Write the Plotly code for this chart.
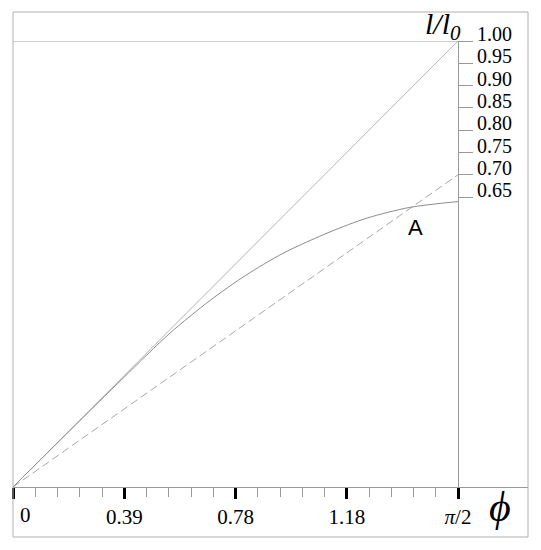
import math
import plotly.graph_objects as go

# ---- data ----
phi_max = math.pi / 2
x_tick_vals = [0, math.pi / 8, math.pi / 4, 3 * math.pi / 8, math.pi / 2]
x_tick_text = ["", "0.39", "0.78", "1.18", "<i>π</i>/2"]
x_zero_label = "0"
x_minor_vals = [k * math.pi / 40 for k in range(21) if k % 5 != 0]
y_tick_vals = [0.65, 0.70, 0.75, 0.80, 0.85, 0.90, 0.95, 1.00]
y_tick_text = ["0.65", "0.70", "0.75", "0.80", "0.85", "0.90", "0.95", "1.00"]

diag_phi = [0, phi_max]
diag_l = [0, 1.0]
dash_phi = [0, phi_max]
dash_l = [0, 0.70]
curve_phi = [0, 0.20, 0.39, 0.554, 0.695, 0.82, 0.953, 1.119, 1.25, 1.401, phi_max]
curve_l = [0, 0.126, 0.245, 0.345, 0.418, 0.474, 0.524, 0.572, 0.603, 0.627, 0.640]

# ---- geometry (page has an 8px body margin) ----
W, H = 525, 534
L, R, T, B = 5, 5, 4, 55
PW = W - L - R          # 515
PH = H - T - B          # 475
AX_W = 445              # px from phi=0 to phi=pi/2
AX_H = 446              # px from 0 to 1
x_range_max = phi_max * PW / AX_W

fig = go.Figure()
fig.add_trace(go.Scatter(x=diag_phi, y=diag_l, mode="lines",
                         line=dict(color="#b4b4b4", width=1), hoverinfo="skip"))
fig.add_trace(go.Scatter(x=dash_phi, y=dash_l, mode="lines",
                         line=dict(color="#a8a8a8", width=1, dash="8px,4px"), hoverinfo="skip"))
fig.add_trace(go.Scatter(x=curve_phi, y=curve_l, mode="lines",
                         line=dict(color="#8c8c8c", width=1, shape="spline", smoothing=0.8),
                         hoverinfo="skip"))

fig.update_layout(
    width=W, height=H,
    margin=dict(l=L, r=R, t=T, b=B, pad=0, autoexpand=False),
    paper_bgcolor="white", plot_bgcolor="white",
    showlegend=False,
    font=dict(family="Liberation Serif", size=20, color="black"),
    xaxis=dict(
        range=[0, x_range_max], domain=[0, 1], automargin=False,
        showgrid=False, zeroline=False,
        showline=True, linecolor="#999999", linewidth=1,
        tickmode="array", tickvals=x_tick_vals, ticktext=x_tick_text,
        ticks="outside", ticklen=11, tickwidth=3, tickcolor="black",
        minor=dict(tickmode="array", tickvals=x_minor_vals, ticks="outside",
                   ticklen=9, tickwidth=1, tickcolor="#9a9a9a", showgrid=False),
        tickfont=dict(family="Liberation Serif", size=21, color="black"),
        ticklabelstandoff=0,
    ),
    yaxis=dict(
        range=[0, 1], domain=[0, AX_H / PH], automargin=False,
        anchor="free", position=AX_W / PW, side="right",
        showgrid=False, zeroline=False,
        showline=True, linecolor="#999999", linewidth=1,
        tickmode="array", tickvals=y_tick_vals, ticktext=y_tick_text,
        ticks="outside", ticklen=14, tickwidth=1, tickcolor="#999999",
        tickfont=dict(family="Liberation Serif", size=20, color="black"),
        ticklabelshift=-7, ticklabelstandoff=0,
    ),
)

# top line at l/l0 = 1
fig.add_shape(type="line", xref="x", yref="y", x0=0, x1=phi_max, y0=1, y1=1,
              line=dict(color="#999999", width=1))
# outer frame
fig.add_shape(type="rect", xref="paper", yref="paper", x0=0, x1=1,
              y0=-50 / PH, y1=1, line=dict(color="#b0b0b0", width=1))

fig.add_annotation(text=x_zero_label, xref="x", yref="paper", x=0, y=-28 / PH,
                   xanchor="center", yanchor="middle", xshift=12, showarrow=False,
                   font=dict(family="Liberation Serif", size=21, color="black"))
fig.add_annotation(text="<i>l/l</i><sub><i>0</i></sub>", xref="paper", yref="paper",
                   x=(463 - 13) / PW, y=(487 - 26) / PH, xanchor="right", yanchor="middle",
                   showarrow=False, font=dict(family="Liberation Serif", size=30, color="black"))
fig.add_annotation(text="<i>ϕ</i>", xref="paper", yref="paper",
                   x=(500 - 13) / PW, y=(487 - 507) / PH, xanchor="center", yanchor="middle",
                   showarrow=False, font=dict(family="Liberation Serif", size=42, color="black"))
fig.add_annotation(text="A", xref="x", yref="y", x=1.419, y=0.581,
                   xanchor="center", yanchor="middle", showarrow=False,
                   font=dict(family="Liberation Sans", size=22, color="black"))

fig.write_html("out.html")
